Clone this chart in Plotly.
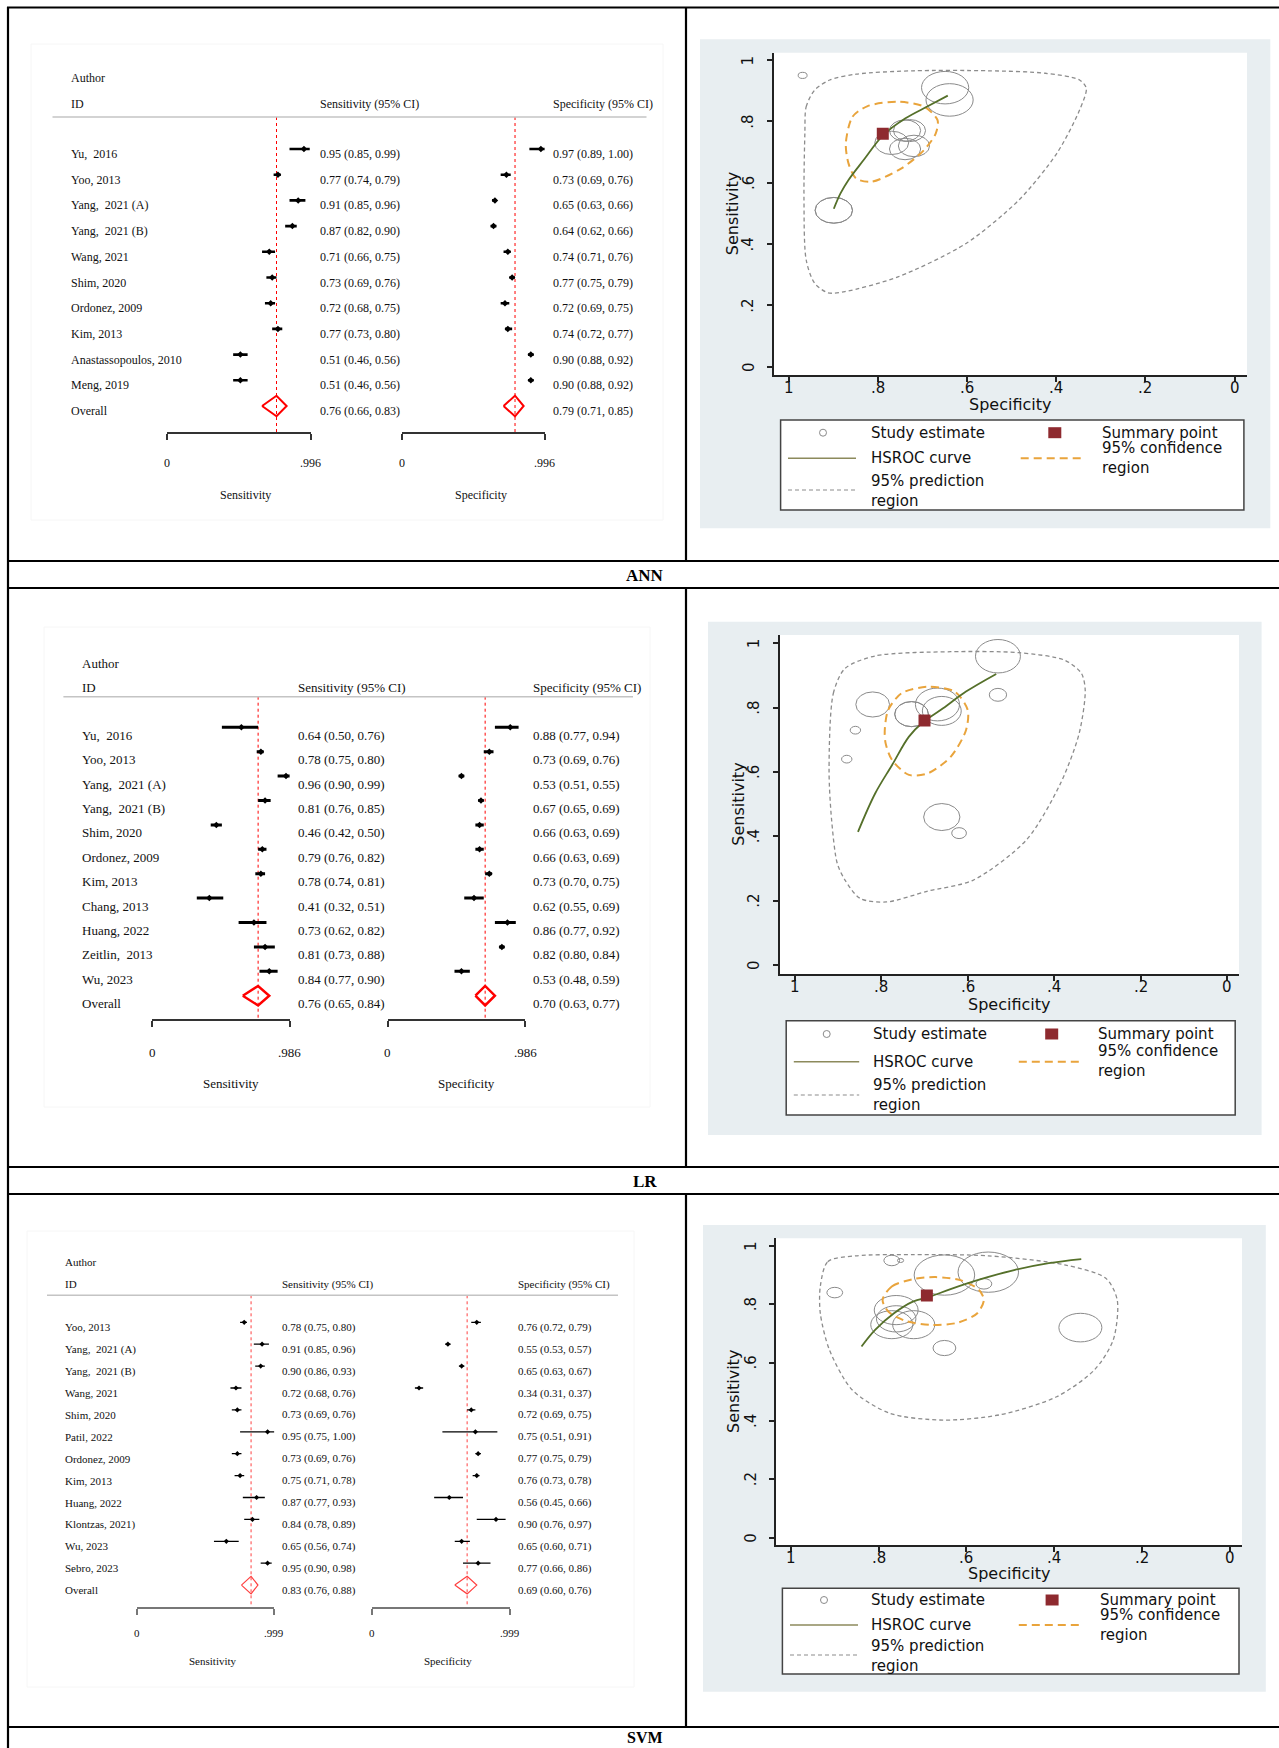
import plotly.graph_objects as go

# ======================= DATA =======================
panel_labels = ["ANN", "LR", "SVM"]

# ---------- ANN forest ----------
ann_study = ["Yu,  2016", "Yoo, 2013", "Yang,  2021 (A)", "Yang,  2021 (B)", "Wang, 2021",
             "Shim, 2020", "Ordonez, 2009", "Kim, 2013", "Anastassopoulos, 2010", "Meng, 2019"]
ann_sens = [0.95, 0.77, 0.91, 0.87, 0.71, 0.73, 0.72, 0.77, 0.51, 0.51]
ann_sens_lo = [0.85, 0.74, 0.85, 0.82, 0.66, 0.69, 0.68, 0.73, 0.46, 0.46]
ann_sens_hi = [0.99, 0.79, 0.96, 0.90, 0.75, 0.76, 0.75, 0.80, 0.56, 0.56]
ann_spec = [0.97, 0.73, 0.65, 0.64, 0.74, 0.77, 0.72, 0.74, 0.90, 0.90]
ann_spec_lo = [0.89, 0.69, 0.63, 0.62, 0.71, 0.75, 0.69, 0.72, 0.88, 0.88]
ann_spec_hi = [1.00, 0.76, 0.66, 0.66, 0.76, 0.79, 0.75, 0.77, 0.92, 0.92]
ann_overall_sens = [0.76, 0.66, 0.83]
ann_overall_spec = [0.79, 0.71, 0.85]
ann_axis_ticks = [0, 0.996]
ann_axis_labels = ["0", ".996"]

# ---------- LR forest ----------
lr_study = ["Yu,  2016", "Yoo, 2013", "Yang,  2021 (A)", "Yang,  2021 (B)", "Shim, 2020",
            "Ordonez, 2009", "Kim, 2013", "Chang, 2013", "Huang, 2022", "Zeitlin,  2013", "Wu, 2023"]
lr_sens = [0.64, 0.78, 0.96, 0.81, 0.46, 0.79, 0.78, 0.41, 0.73, 0.81, 0.84]
lr_sens_lo = [0.50, 0.75, 0.90, 0.76, 0.42, 0.76, 0.74, 0.32, 0.62, 0.73, 0.77]
lr_sens_hi = [0.76, 0.80, 0.99, 0.85, 0.50, 0.82, 0.81, 0.51, 0.82, 0.88, 0.90]
lr_spec = [0.88, 0.73, 0.53, 0.67, 0.66, 0.66, 0.73, 0.62, 0.86, 0.82, 0.53]
lr_spec_lo = [0.77, 0.69, 0.51, 0.65, 0.63, 0.63, 0.70, 0.55, 0.77, 0.80, 0.48]
lr_spec_hi = [0.94, 0.76, 0.55, 0.69, 0.69, 0.69, 0.75, 0.69, 0.92, 0.84, 0.59]
lr_overall_sens = [0.76, 0.65, 0.84]
lr_overall_spec = [0.70, 0.63, 0.77]
lr_axis_ticks = [0, 0.986]
lr_axis_labels = ["0", ".986"]

# ---------- SVM forest ----------
svm_study = ["Yoo, 2013", "Yang,  2021 (A)", "Yang,  2021 (B)", "Wang, 2021", "Shim, 2020",
             "Patil, 2022", "Ordonez, 2009", "Kim, 2013", "Huang, 2022", "Klontzas, 2021)",
             "Wu, 2023", "Sebro, 2023"]
svm_sens = [0.78, 0.91, 0.90, 0.72, 0.73, 0.95, 0.73, 0.75, 0.87, 0.84, 0.65, 0.95]
svm_sens_lo = [0.75, 0.85, 0.86, 0.68, 0.69, 0.75, 0.69, 0.71, 0.77, 0.78, 0.56, 0.90]
svm_sens_hi = [0.80, 0.96, 0.93, 0.76, 0.76, 1.00, 0.76, 0.78, 0.93, 0.89, 0.74, 0.98]
svm_spec = [0.76, 0.55, 0.65, 0.34, 0.72, 0.75, 0.77, 0.76, 0.56, 0.90, 0.65, 0.77]
svm_spec_lo = [0.72, 0.53, 0.63, 0.31, 0.69, 0.51, 0.75, 0.73, 0.45, 0.76, 0.60, 0.66]
svm_spec_hi = [0.79, 0.57, 0.67, 0.37, 0.75, 0.91, 0.79, 0.78, 0.66, 0.97, 0.71, 0.86]
svm_overall_sens = [0.83, 0.76, 0.88]
svm_overall_spec = [0.69, 0.60, 0.76]
svm_axis_ticks = [0, 0.999]
svm_axis_labels = ["0", ".999"]

# ---------- SROC (circle radius in data units) ----------
ann_radius = [0.010, 0.036, 0.053, 0.053, 0.035, 0.038, 0.035, 0.035, 0.042, 0.042]
lr_radius = [0.012, 0.039, 0.052, 0.051, 0.042, 0.045, 0.039, 0.017, 0.012, 0.039, 0.020]
svm_radius = [0.050, 0.069, 0.069, 0.049, 0.048, 0.007, 0.048, 0.045, 0.018, 0.018, 0.026, 0.018]

ann_hsroc_spec = [0.900, 0.885, 0.867, 0.833, 0.789, 0.739, 0.688, 0.644]
ann_hsroc_sens = [0.515, 0.565, 0.609, 0.674, 0.755, 0.810, 0.850, 0.884]
ann_conf_spec = [0.873, 0.858, 0.824, 0.756, 0.697, 0.667, 0.671, 0.697, 0.748, 0.816, 0.850, 0.867, 0.873]
ann_conf_sens = [0.728, 0.815, 0.850, 0.864, 0.848, 0.804, 0.761, 0.707, 0.647, 0.603, 0.614, 0.663, 0.728]
ann_pred_spec = [0.965, 0.962, 0.943, 0.909, 0.850, 0.722, 0.552, 0.425, 0.348, 0.333, 0.348, 0.399,
                 0.484, 0.603, 0.756, 0.875, 0.913, 0.943, 0.962, 0.967, 0.965]
ann_pred_sens = [0.761, 0.848, 0.902, 0.935, 0.954, 0.965, 0.965, 0.957, 0.935, 0.908, 0.837, 0.696,
                 0.544, 0.402, 0.293, 0.245, 0.241, 0.272, 0.348, 0.544, 0.761]
ann_summary = [0.79, 0.76]

lr_hsroc_spec = [0.854, 0.814, 0.775, 0.736, 0.705, 0.657, 0.604, 0.534]
lr_hsroc_sens = [0.414, 0.534, 0.622, 0.710, 0.753, 0.798, 0.850, 0.905]
lr_conf_spec = [0.792, 0.784, 0.753, 0.692, 0.630, 0.600, 0.604, 0.639, 0.692, 0.736, 0.775, 0.790, 0.792]
lr_conf_sens = [0.730, 0.793, 0.845, 0.865, 0.850, 0.793, 0.730, 0.648, 0.596, 0.591, 0.637, 0.689, 0.730]
lr_pred_spec = [0.921, 0.911, 0.884, 0.814, 0.639, 0.482, 0.376, 0.337, 0.328, 0.342, 0.385, 0.464,
                0.587, 0.692, 0.788, 0.849, 0.884, 0.902, 0.915, 0.921]
lr_pred_sens = [0.606, 0.845, 0.922, 0.961, 0.974, 0.971, 0.948, 0.907, 0.855, 0.720, 0.565, 0.389,
                0.264, 0.230, 0.196, 0.207, 0.264, 0.316, 0.450, 0.606]
lr_summary = [0.70, 0.76]

svm_hsroc_spec = [0.839, 0.808, 0.765, 0.722, 0.683, 0.636, 0.567, 0.489, 0.412, 0.338]
svm_hsroc_sens = [0.655, 0.712, 0.769, 0.809, 0.826, 0.852, 0.886, 0.918, 0.941, 0.955]
svm_conf_spec = [0.791, 0.770, 0.722, 0.670, 0.610, 0.571, 0.560, 0.575, 0.619, 0.679, 0.739, 0.778, 0.791]
svm_conf_sens = [0.815, 0.861, 0.886, 0.893, 0.881, 0.849, 0.815, 0.769, 0.737, 0.729, 0.743, 0.775, 0.815]
svm_pred_spec = [0.933, 0.916, 0.852, 0.722, 0.550, 0.376, 0.282, 0.256, 0.265, 0.308, 0.394, 0.524,
                 0.653, 0.774, 0.860, 0.912, 0.933, 0.933]
svm_pred_sens = [0.861, 0.946, 0.966, 0.970, 0.966, 0.935, 0.889, 0.815, 0.678, 0.575, 0.483, 0.421,
                 0.403, 0.426, 0.506, 0.643, 0.769, 0.861]
svm_summary = [0.69, 0.83]

sroc_ticks = [0, 0.2, 0.4, 0.6, 0.8, 1]
sroc_tick_labels = ["0", ".2", ".4", ".6", ".8", "1"]
legend_labels = ["Study estimate", "Summary point", "HSROC curve", "95% confidence<br>region",
                 "95% prediction<br>region"]

# ======================= LAYOUT HELPERS =======================
W, H = 1279, 1748


def PX(v):
    return v / W


def PY(v):
    return 1 - v / H


def axkey(p, n):
    return f"{p}axis" + ("" if n == 1 else str(n))


def axref(p, n):
    return p + ("" if n == 1 else str(n))


SERIF = "Liberation Serif"
SANS = "DejaVu Sans"
fig = go.Figure()
shapes, anns, lay = [], [], {}

forest_data = [
    dict(study=ann_study, se=ann_sens, se_lo=ann_sens_lo, se_hi=ann_sens_hi, sp=ann_spec,
         sp_lo=ann_spec_lo, sp_hi=ann_spec_hi, ov_se=ann_overall_sens, ov_sp=ann_overall_spec,
         ticks=ann_axis_ticks, tlabels=ann_axis_labels),
    dict(study=lr_study, se=lr_sens, se_lo=lr_sens_lo, se_hi=lr_sens_hi, sp=lr_spec,
         sp_lo=lr_spec_lo, sp_hi=lr_spec_hi, ov_se=lr_overall_sens, ov_sp=lr_overall_spec,
         ticks=lr_axis_ticks, tlabels=lr_axis_labels),
    dict(study=svm_study, se=svm_sens, se_lo=svm_sens_lo, se_hi=svm_sens_hi, sp=svm_spec,
         sp_lo=svm_spec_lo, sp_hi=svm_spec_hi, ov_se=svm_overall_sens, ov_sp=svm_overall_spec,
         ticks=svm_axis_ticks, tlabels=svm_axis_labels),
]

forest_geom = [
    dict(row0=149, sp=25.7, top=117, bot=432, sx=(166.7, 310.6), px=(401.6, 544.6), name_x=69,
         stx=318, ptx=551, auth_y=78, id_y=104, hx=(52.5, 646.5), tick_y=463, title_y=495,
         stitle_x=246, ptitle_x=481, box=(31, 44, 663, 520), fs=12, tshift=5, lw=2.6, ms=5,
         dw=2, dcol="#ff0000", bcol="#333333"),
    dict(row0=727.3, sp=24.4, top=696.7, bot=1019.3, sx=(152.2, 289.6), px=(387.6, 525),
         name_x=79.6, stx=296, ptx=531, auth_y=663, id_y=687, hx=(63.4, 633), tick_y=1052.7,
         title_y=1083, stitle_x=230.5, ptitle_x=466, box=(44, 627, 650, 1107), fs=13, tshift=8,
         lw=3, ms=5, dw=2.5, dcol="#ff0000", bcol="#333333"),
    dict(row0=1322.3, sp=21.9, top=1295.3, bot=1607.3, sx=(137, 274.3), px=(372.3, 509.6),
         name_x=63.4, stx=280, ptx=516, auth_y=1261.7, id_y=1284.3, hx=(47, 618), tick_y=1633.3,
         title_y=1661, stitle_x=212.6, ptitle_x=448, box=(27, 1231, 634, 1687), fs=11, tshift=5,
         lw=1.3, ms=4, dw=1.2, dcol="#ff4040", bcol="#777777"),
]


def txt(text, x, y, xref="paper", yref="paper", size=12, family=SERIF, xanchor="left",
        yanchor="middle", yshift=0, angle=0, color="#111111", bold=False):
    anns.append(dict(text=("<b>%s</b>" % text) if bold else text, x=x, y=y, xref=xref, yref=yref,
                     showarrow=False, xanchor=xanchor, yanchor=yanchor, yshift=yshift,
                     textangle=angle, align="left",
                     font=dict(family=family, size=size, color=color)))


def add_forest(k, D, G):
    ny = k + 1
    yref = axref("y", ny)
    n = len(D["study"])
    rows = list(range(n))
    r_top = (G["top"] - G["row0"]) / G["sp"]
    r_bot = (G["bot"] - G["row0"]) / G["sp"]
    lay[axkey("y", ny)] = dict(domain=[PY(G["bot"]), PY(G["top"])], range=[r_bot, r_top],
                               visible=False, fixedrange=True)
    b = G["box"]
    shapes.append(dict(type="rect", xref="paper", yref="paper", x0=PX(b[0]), x1=PX(b[2]),
                       y0=PY(b[3]), y1=PY(b[1]), line=dict(color="#f6f6f6", width=1), layer="below"))
    shapes.append(dict(type="line", xref="paper", yref="paper", x0=PX(G["hx"][0]), x1=PX(G["hx"][1]),
                       y0=PY(G["top"]), y1=PY(G["top"]), line=dict(color="#c4c4c4", width=1.5)))
    fs = G["fs"]
    txt("Author", PX(G["name_x"]), PY(G["auth_y"]), size=fs)
    txt("ID", PX(G["name_x"]), PY(G["id_y"]), size=fs)
    txt("Sensitivity (95% CI)", PX(G["stx"]), PY(G["id_y"]), size=fs)
    txt("Specificity (95% CI)", PX(G["ptx"]), PY(G["id_y"]), size=fs)
    for i in rows:
        txt(D["study"][i], PX(G["name_x"]), i, yref=yref, size=fs, yshift=-G["tshift"])
    txt("Overall", PX(G["name_x"]), n, yref=yref, size=fs, yshift=-G["tshift"])

    sides = [
        (D["se"], D["se_lo"], D["se_hi"], D["ov_se"], G["sx"], G["stx"], "Sensitivity", G["stitle_x"]),
        (D["sp"], D["sp_lo"], D["sp_hi"], D["ov_sp"], G["px"], G["ptx"], "Specificity", G["ptitle_x"]),
    ]
    for j, (est, lo, hi, ov, dom, tx, title, title_x) in enumerate(sides):
        nx = 2 * k + 1 + j
        xref = axref("x", nx)
        lay[axkey("x", nx)] = dict(domain=[PX(dom[0]), PX(dom[1])], range=[D["ticks"][0], D["ticks"][-1]],
                                   anchor=yref, showline=True, linecolor=G["bcol"], linewidth=1.5,
                                   ticks="outside", tickvals=D["ticks"], ticklen=6, tickwidth=1.5,
                                   tickcolor=G["bcol"], showticklabels=False, showgrid=False,
                                   zeroline=False, fixedrange=True)
        fig.add_trace(go.Scatter(x=[ov[0], ov[0]], y=[r_top, r_bot], xaxis=xref, yaxis=yref,
                                 mode="lines", line=dict(color=G["dcol"], width=1, dash="3px,3px"),
                                 hoverinfo="skip", showlegend=False))
        xs, ys = [], []
        for i in rows:
            xs += [lo[i], hi[i], None]
            ys += [i, i, None]
        fig.add_trace(go.Scatter(x=xs, y=ys, xaxis=xref, yaxis=yref, mode="lines",
                                 line=dict(color="black", width=G["lw"]), hoverinfo="skip",
                                 showlegend=False))
        fig.add_trace(go.Scatter(x=est, y=rows, xaxis=xref, yaxis=yref, mode="markers",
                                 marker=dict(symbol="diamond", size=G["ms"], color="black"),
                                 showlegend=False))
        fig.add_trace(go.Scatter(x=[ov[1], ov[0], ov[2], ov[0], ov[1]], y=[n, n - 0.4, n, n + 0.4, n],
                                 xaxis=xref, yaxis=yref, mode="lines",
                                 line=dict(color=G["dcol"], width=G["dw"]), showlegend=False))
        for i in rows:
            txt(f"{est[i]:.2f} ({lo[i]:.2f}, {hi[i]:.2f})", PX(tx), i, yref=yref, size=fs,
                yshift=-G["tshift"])
        txt(f"{ov[0]:.2f} ({ov[1]:.2f}, {ov[2]:.2f})", PX(tx), n, yref=yref, size=fs,
            yshift=-G["tshift"])
        for tv, tl in zip(D["ticks"], D["tlabels"]):
            txt(tl, tv, PY(G["tick_y"]), xref=xref, size=fs, xanchor="center")
        txt(title, PX(title_x), PY(G["title_y"]), size=fs, xanchor="center")


sroc_data = [
    dict(spec=ann_spec, sens=ann_sens, r=ann_radius, hs=(ann_hsroc_spec, ann_hsroc_sens),
         conf=(ann_conf_spec, ann_conf_sens), pred=(ann_pred_spec, ann_pred_sens), summ=ann_summary),
    dict(spec=lr_spec, sens=lr_sens, r=lr_radius, hs=(lr_hsroc_spec, lr_hsroc_sens),
         conf=(lr_conf_spec, lr_conf_sens), pred=(lr_pred_spec, lr_pred_sens), summ=lr_summary),
    dict(spec=svm_spec, sens=svm_sens, r=svm_radius, hs=(svm_hsroc_spec, svm_hsroc_sens),
         conf=(svm_conf_spec, svm_conf_sens), pred=(svm_pred_spec, svm_pred_sens), summ=svm_summary),
]

sroc_geom = [
    dict(bg=(700, 39.3, 1270.3, 528.3), xd=(773.7, 1247), yd=(52.7, 375), xr=[1.035, -0.028],
         yr=[-0.027, 1.024], xlab_y=388.3, ylab_x=748.4, xtitle_y=404, ytitle_x=733.3,
         leg=(780.6, 420, 1243.9, 510), r1=432.7, r2=458.3, r3=490, c1=823, t1=868.7, sq=1054.8,
         t2=1100, l1=(788, 856), l2=(1020.7, 1083), conf_y=458.3, pred_y=491),
    dict(bg=(708, 621.7, 1261.6, 1135), xd=(779.8, 1239), yd=(635, 974), xr=[1.035, -0.028],
         yr=[-0.028, 1.026], xlab_y=987.3, ylab_x=754, xtitle_y=1004, ytitle_x=738.2,
         leg=(786.2, 1020.7, 1235.2, 1115), r1=1034, r2=1061.7, r3=1095, c1=826.7, t1=871.3,
         sq=1051.7, t2=1096.4, l1=(793.8, 859.2), l2=(1018.8, 1079.3), conf_y=1061.2,
         pred_y=1095.3),
    dict(bg=(703, 1225, 1265.8, 1691.7), xd=(776, 1242), yd=(1238.3, 1545), xr=[1.034, -0.0285],
         yr=[-0.025, 1.026], xlab_y=1558.3, ylab_x=751, xtitle_y=1573.3, ytitle_x=733.3,
         leg=(782.4, 1588.3, 1239, 1674), r1=1600, r2=1625, r3=1655, c1=824, t1=869.4, sq=1052.1,
         t2=1098.3, l1=(790, 858), l2=(1018.8, 1081.2), conf_y=1625, pred_y=1655.8),
]

BG = "#e8eef1"
OLIVE = "#55702a"
ORANGE = "#e9a43c"
PGRAY = "#8c8c8c"
MAROON = "#8e2a2f"
LEG_FS = 15


def add_sroc(k, D, G):
    nx, ny = 7 + k, 4 + k
    xref, yref = axref("x", nx), axref("y", ny)
    b = G["bg"]
    shapes.append(dict(type="rect", xref="paper", yref="paper", x0=PX(b[0]), x1=PX(b[2]),
                       y0=PY(b[3]), y1=PY(b[1]), fillcolor=BG, line=dict(width=0), layer="below"))
    shapes.append(dict(type="rect", xref="paper", yref="paper", x0=PX(G["xd"][0]), x1=PX(G["xd"][1]),
                       y0=PY(G["yd"][1]), y1=PY(G["yd"][0]), fillcolor="white", line=dict(width=0),
                       layer="below"))
    common = dict(showline=True, linecolor="#222222", linewidth=1.5, ticks="outside",
                  tickvals=sroc_ticks, ticklen=5, tickwidth=1.5, tickcolor="#222222",
                  showticklabels=False, showgrid=False, zeroline=False, fixedrange=True)
    lay[axkey("x", nx)] = dict(domain=[PX(G["xd"][0]), PX(G["xd"][1])], range=G["xr"], anchor=yref,
                               **common)
    lay[axkey("y", ny)] = dict(domain=[PY(G["yd"][1]), PY(G["yd"][0])], range=G["yr"], anchor=xref,
                               **common)
    for s, se, r in zip(D["spec"], D["sens"], D["r"]):
        shapes.append(dict(type="circle", xref=xref, yref=yref, x0=s - r, x1=s + r, y0=se - r, y1=se + r,
                           line=dict(color="#8a8a8a", width=1), layer="below"))
    fig.add_trace(go.Scatter(x=D["pred"][0], y=D["pred"][1], xaxis=xref, yaxis=yref, mode="lines",
                             line=dict(color=PGRAY, width=1.3, dash="4px,3px", shape="spline",
                                       smoothing=0.8), showlegend=False, hoverinfo="skip"))
    fig.add_trace(go.Scatter(x=D["conf"][0], y=D["conf"][1], xaxis=xref, yaxis=yref, mode="lines",
                             line=dict(color=ORANGE, width=2, dash="8px,5px", shape="spline",
                                       smoothing=0.8), showlegend=False, hoverinfo="skip"))
    fig.add_trace(go.Scatter(x=D["hs"][0], y=D["hs"][1], xaxis=xref, yaxis=yref, mode="lines",
                             line=dict(color=OLIVE, width=1.8, shape="spline"), showlegend=False,
                             hoverinfo="skip"))
    fig.add_trace(go.Scatter(x=[D["summ"][0]], y=[D["summ"][1]], xaxis=xref, yaxis=yref,
                             mode="markers", marker=dict(symbol="square", size=12, color=MAROON),
                             showlegend=False))
    for tv, tl in zip(sroc_ticks, sroc_tick_labels):
        txt(tl, tv, PY(G["xlab_y"]), xref=xref, size=15, family=SANS, xanchor="center", color="#111")
        txt(tl, PX(G["ylab_x"]), tv, yref=yref, size=15, family=SANS, xanchor="center", angle=-90,
            color="#111")
    txt("Specificity", PX((G["xd"][0] + G["xd"][1]) / 2), PY(G["xtitle_y"]), size=16, family=SANS,
        xanchor="center", color="#111")
    txt("Sensitivity", PX(G["ytitle_x"]), PY((G["yd"][0] + G["yd"][1]) / 2), size=16, family=SANS,
        xanchor="center", angle=-90, color="#111")
    L = G["leg"]
    shapes.append(dict(type="rect", xref="paper", yref="paper", x0=PX(L[0]), x1=PX(L[2]), y0=PY(L[3]),
                       y1=PY(L[1]), fillcolor="white", line=dict(color="#444444", width=1.5)))
    shapes.append(dict(type="circle", xref="paper", yref="paper", x0=PX(G["c1"] - 3.5),
                       x1=PX(G["c1"] + 3.5), y0=PY(G["r1"] + 3.5), y1=PY(G["r1"] - 3.5),
                       line=dict(color="#8a8a8a", width=1)))
    shapes.append(dict(type="rect", xref="paper", yref="paper", x0=PX(G["sq"] - 6.5),
                       x1=PX(G["sq"] + 6.5), y0=PY(G["r1"] + 5.5), y1=PY(G["r1"] - 5.5),
                       fillcolor=MAROON, line=dict(width=0)))
    shapes.append(dict(type="line", xref="paper", yref="paper", x0=PX(G["l1"][0]), x1=PX(G["l1"][1]),
                       y0=PY(G["r2"]), y1=PY(G["r2"]), line=dict(color="#8c8a5c", width=1.5)))
    shapes.append(dict(type="line", xref="paper", yref="paper", x0=PX(G["l2"][0]), x1=PX(G["l2"][1]),
                       y0=PY(G["r2"]), y1=PY(G["r2"]), line=dict(color=ORANGE, width=2, dash="8px,5px")))
    shapes.append(dict(type="line", xref="paper", yref="paper", x0=PX(G["l1"][0]), x1=PX(G["l1"][1]),
                       y0=PY(G["r3"]), y1=PY(G["r3"]), line=dict(color=PGRAY, width=1.2, dash="4px,3px")))
    lpos = [(G["t1"], G["r1"]), (G["t2"], G["r1"]), (G["t1"], G["r2"]), (G["t2"], G["conf_y"]),
            (G["t1"], G["pred_y"])]
    for lab, (lx, ly) in zip(legend_labels, lpos):
        txt(lab, PX(lx), PY(ly), size=LEG_FS, family=SANS, color="#111")


for k in range(3):
    add_forest(k, forest_data[k], forest_geom[k])
    add_sroc(k, sroc_data[k], sroc_geom[k])

# ---------- table grid ----------
LW = 2.2
for yy in [7.5, 561, 588, 1167, 1194, 1727]:
    shapes.append(dict(type="line", xref="paper", yref="paper", x0=PX(7), x1=1, y0=PY(yy), y1=PY(yy),
                       line=dict(color="black", width=LW)))
shapes.append(dict(type="line", xref="paper", yref="paper", x0=PX(8), x1=PX(8), y0=0, y1=PY(7),
                   line=dict(color="black", width=LW)))
for (y0, y1) in [(7, 561), (588, 1167), (1194, 1727)]:
    shapes.append(dict(type="line", xref="paper", yref="paper", x0=PX(686), x1=PX(686), y0=PY(y1),
                       y1=PY(y0), line=dict(color="black", width=LW)))
for lab, yy in zip(panel_labels[:2], [575, 1181]):
    txt(lab, PX(645), PY(yy), size=17, family=SERIF, xanchor="center", bold=True, color="black")
txt(panel_labels[2], PX(645), PY(1748), size=16, family=SERIF, xanchor="center", yanchor="bottom",
    bold=True, color="black")

fig.update_layout(width=W, height=H, autosize=False, margin=dict(l=0, r=0, t=0, b=0),
                  paper_bgcolor="white", plot_bgcolor="white", showlegend=False,
                  shapes=shapes, annotations=anns, **lay)
fig.write_html("out.html", config={"displayModeBar": False},
               post_script="document.body.style.margin='0px';")
